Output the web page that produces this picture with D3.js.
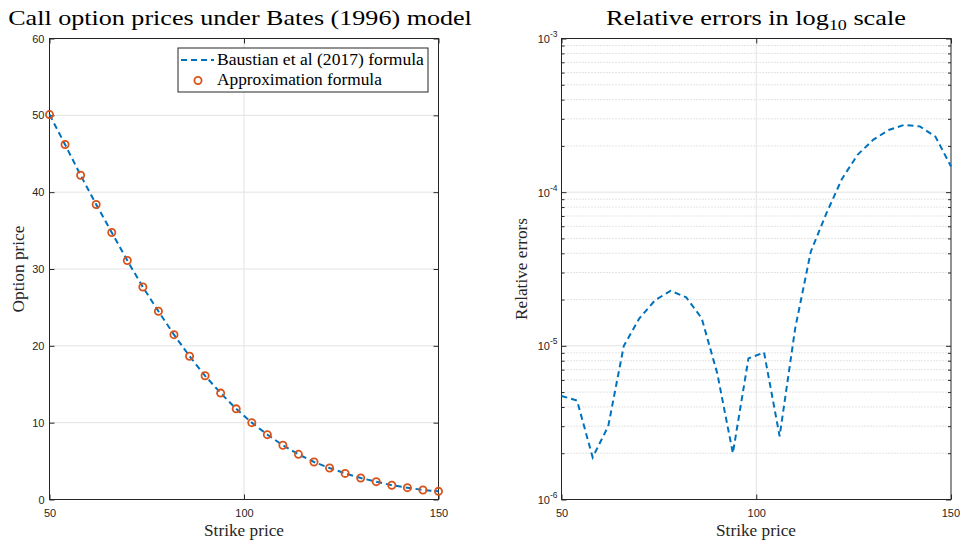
<!DOCTYPE html>
<html>
<head>
<meta charset="utf-8">
<script src="https://cdn.jsdelivr.net/npm/d3@7/dist/d3.min.js"></script>
<style>
  body { margin: 0; background: #fff; }
  svg { display: block; }
</style>
</head>
<body>
<svg id="chart" width="960" height="541"></svg>
<script>
// Strike grid and prices (Bates 1996 model)
const strikes = [50, 54, 58, 62, 66, 70, 74, 78, 82, 86, 90, 94, 98,
                 102, 106, 110, 114, 118, 122, 126, 130, 134, 138, 142, 146, 150];
const baustianPrices = [50.1, 46.2, 42.2, 38.4, 34.75, 31.1, 27.65, 24.5, 21.45, 18.65, 16.1, 13.85, 11.8,
                        10.0, 8.44, 7.06, 5.88, 4.88, 4.1, 3.4, 2.8, 2.32, 1.86, 1.54, 1.24, 1.06];
const approxPrices   = [50.1, 46.2, 42.2, 38.4, 34.75, 31.1, 27.65, 24.5, 21.45, 18.65, 16.1, 13.85, 11.8,
                        10.0, 8.44, 7.06, 5.88, 4.88, 4.1, 3.4, 2.8, 2.32, 1.86, 1.54, 1.24, 1.06];
// Relative errors of the approximation
const relErrors = [4.72e-6, 4.40e-6, 1.88e-6, 3.0e-6, 1.0e-5, 1.51e-5, 1.98e-5, 2.28e-5, 2.07e-5, 1.51e-5,
                   6.6e-6, 2.0e-6, 8.28e-6, 9.06e-6, 2.58e-6, 1.3e-5, 4.1e-5, 7.27e-5, 1.22e-4, 1.75e-4,
                   2.19e-4, 2.54e-4, 2.74e-4, 2.68e-4, 2.30e-4, 1.47e-4];

const strikeTicks = [50, 100, 150];
const priceTicks = [0, 10, 20, 30, 40, 50, 60];
const errorExponents = [-6, -5, -4, -3];

const BLUE = "#0072BD", ORANGE = "#D95319", AXIS = "#262626";
const SERIF = "'Liberation Serif', 'Times New Roman', serif";
const SANS = "'Liberation Sans', Arial, Helvetica, sans-serif";
const TICK_FS = 11;

const svg = d3.select("#chart");

// Stretch a text horizontally (along its own baseline) to a given width,
// keeping its anchor point fixed. The serif face used here is narrower
// than the TeX roman the labels are set in.
function stretchTo(sel, width, base) {
  const w = sel.node().getBBox().width;
  const s = width / w;
  sel.attr("transform", (base || "") + ` scale(${s},1)`);
}
function serifText(parent, x, y, size, anchor, str, width, fill) {
  const t = parent.append("text").attr("x", 0).attr("y", 0)
    .attr("text-anchor", anchor).attr("font-family", SERIF).attr("font-size", size)
    .attr("fill", fill || "#000").text(str);
  stretchTo(t, width, `translate(${x},${y})`);
  return t;
}

function axesFrame(g, x, y, w, h) {
  g.append("rect").attr("x", x).attr("y", y).attr("width", w).attr("height", h)
    .attr("fill", "none").attr("stroke", AXIS).attr("stroke-width", 1);
}
function styleAxis(a) {
  a.attr("font-size", TICK_FS).attr("font-family", SANS);
  a.select(".domain").remove();
  a.selectAll("line").attr("stroke", AXIS);
  a.selectAll("text").attr("fill", AXIS);
}

// ---------- Left panel: option prices ----------
const L = { left: 49.5, right: 438.5, top: 38.5, bottom: 499.5 };
const xL = d3.scaleLinear().domain([50, 150]).range([L.left, L.right]);
const yL = d3.scaleLinear().domain([0, 60]).range([L.bottom, L.top]);
const gL = svg.append("g");

// grid
gL.append("g").selectAll("line").data(priceTicks.filter(v => v > 0 && v < 60)).join("line")
  .attr("x1", L.left).attr("x2", L.right).attr("y1", d => yL(d)).attr("y2", d => yL(d))
  .attr("stroke", "#e3e3e3").attr("stroke-width", 1);
gL.append("g").selectAll("line").data(strikeTicks.filter(v => v > 50 && v < 150)).join("line")
  .attr("y1", L.top).attr("y2", L.bottom).attr("x1", d => xL(d)).attr("x2", d => xL(d))
  .attr("stroke", "#e3e3e3").attr("stroke-width", 1);

// axes with inward ticks
const bottomL = gL.append("g").attr("transform", `translate(0,${L.bottom})`)
  .call(d3.axisBottom(xL).tickValues(strikeTicks).tickSize(-5).tickPadding(10).tickSizeOuter(0));
const leftL = gL.append("g").attr("transform", `translate(${L.left},0)`)
  .call(d3.axisLeft(yL).tickValues(priceTicks).tickSize(-5).tickPadding(5).tickSizeOuter(0));
const topL = gL.append("g").attr("transform", `translate(0,${L.top})`)
  .call(d3.axisTop(xL).tickValues(strikeTicks).tickSize(-5).tickFormat("").tickSizeOuter(0));
const rightL = gL.append("g").attr("transform", `translate(${L.right},0)`)
  .call(d3.axisRight(yL).tickValues(priceTicks).tickSize(-5).tickFormat("").tickSizeOuter(0));
[bottomL, leftL, topL, rightL].forEach(styleAxis);
axesFrame(gL, L.left, L.top, L.right - L.left, L.bottom - L.top);

// dashed reference curve
const lineL = d3.line().x((d, i) => xL(strikes[i])).y(d => yL(d));
gL.append("path").datum(baustianPrices).attr("d", lineL)
  .attr("fill", "none").attr("stroke", BLUE).attr("stroke-width", 2)
  .attr("stroke-dasharray", "6 4");
// approximation markers
gL.append("g").selectAll("circle").data(approxPrices).join("circle")
  .attr("cx", (d, i) => xL(strikes[i])).attr("cy", d => yL(d)).attr("r", 3.6)
  .attr("fill", "none").attr("stroke", ORANGE).attr("stroke-width", 1.8);

// legend
const leg = gL.append("g");
leg.append("rect").attr("x", 178).attr("y", 48).attr("width", 250).attr("height", 44)
  .attr("fill", "#fff").attr("stroke", AXIS).attr("stroke-width", 1);
leg.append("line").attr("x1", 181).attr("x2", 214).attr("y1", 60).attr("y2", 60)
  .attr("stroke", BLUE).attr("stroke-width", 2).attr("stroke-dasharray", "6 4");
serifText(leg, 217, 64.5, 16, "start", "Baustian et al (2017) formula", 207);
leg.append("circle").attr("cx", 198).attr("cy", 80.5).attr("r", 3.6)
  .attr("fill", "none").attr("stroke", ORANGE).attr("stroke-width", 1.8);
serifText(leg, 217, 84.5, 16, "start", "Approximation formula", 165);

// titles and labels
serifText(svg, 240, 25, 22, "middle", "Call option prices under Bates (1996) model", 464);
serifText(svg, 244, 536, 16, "middle", "Strike price", 80, "#262626");
const yLab = svg.append("text").attr("text-anchor", "middle").attr("font-family", SERIF)
  .attr("font-size", 16).attr("fill", "#262626").text("Option price");
stretchTo(yLab, 87, "translate(24,269) rotate(-90)");

// ---------- Right panel: relative errors (log scale) ----------
const R = { left: 561.5, right: 951, top: 38.5, bottom: 499.5 };
const xR = d3.scaleLinear().domain([50, 150]).range([R.left, R.right]);
const yR = d3.scaleLog().domain([1e-6, 1e-3]).range([R.bottom, R.top]);
const gR = svg.append("g");

const majorVals = errorExponents.map(e => Math.pow(10, e));
const minorVals = [];
errorExponents.slice(0, -1).forEach(e => {
  for (let m = 2; m <= 9; m++) minorVals.push(m * Math.pow(10, e));
});

// minor dotted grid
gR.append("g").selectAll("line").data(minorVals).join("line")
  .attr("x1", R.left).attr("x2", R.right).attr("y1", d => yR(d)).attr("y2", d => yR(d))
  .attr("stroke", "#c8c8c8").attr("stroke-width", 1).attr("stroke-dasharray", "1 2");
// major grid
gR.append("g").selectAll("line").data(majorVals.slice(1, -1)).join("line")
  .attr("x1", R.left).attr("x2", R.right).attr("y1", d => yR(d)).attr("y2", d => yR(d))
  .attr("stroke", "#e3e3e3").attr("stroke-width", 1);
gR.append("g").selectAll("line").data(strikeTicks.filter(v => v > 50 && v < 150)).join("line")
  .attr("y1", R.top).attr("y2", R.bottom).attr("x1", d => xR(d)).attr("x2", d => xR(d))
  .attr("stroke", "#e3e3e3").attr("stroke-width", 1);

const bottomR = gR.append("g").attr("transform", `translate(0,${R.bottom})`)
  .call(d3.axisBottom(xR).tickValues(strikeTicks).tickSize(-5).tickPadding(10).tickSizeOuter(0));
const topR = gR.append("g").attr("transform", `translate(0,${R.top})`)
  .call(d3.axisTop(xR).tickValues(strikeTicks).tickSize(-5).tickFormat("").tickSizeOuter(0));
const leftRmaj = gR.append("g").attr("transform", `translate(${R.left},0)`)
  .call(d3.axisLeft(yR).tickValues(majorVals).tickSize(-5).tickFormat("").tickSizeOuter(0));
const leftRmin = gR.append("g").attr("transform", `translate(${R.left},0)`)
  .call(d3.axisLeft(yR).tickValues(minorVals).tickSize(-3).tickFormat("").tickSizeOuter(0));
const rightRmaj = gR.append("g").attr("transform", `translate(${R.right},0)`)
  .call(d3.axisRight(yR).tickValues(majorVals).tickSize(-5).tickFormat("").tickSizeOuter(0));
const rightRmin = gR.append("g").attr("transform", `translate(${R.right},0)`)
  .call(d3.axisRight(yR).tickValues(minorVals).tickSize(-3).tickFormat("").tickSizeOuter(0));
[bottomR, topR, leftRmaj, leftRmin, rightRmaj, rightRmin].forEach(styleAxis);
// keep the last strike label inside the page edge
bottomR.selectAll(".tick").filter(d => d === 150).select("text")
  .attr("text-anchor", "end").attr("x", 8.5);

// power-of-ten tick labels
const expLabels = gR.append("g").attr("font-family", SANS).attr("fill", AXIS);
errorExponents.forEach(e => {
  const t = expLabels.append("text").attr("x", R.left - 4).attr("y", yR(Math.pow(10, e)) + 4.5)
    .attr("text-anchor", "end").attr("font-size", TICK_FS);
  t.append("tspan").text("10");
  t.append("tspan").attr("dy", -6).attr("font-size", 8.5).text("-" + Math.abs(e));
});
axesFrame(gR, R.left, R.top, R.right - R.left, R.bottom - R.top);

const lineR = d3.line().x((d, i) => xR(strikes[i])).y(d => yR(d));
gR.append("path").datum(relErrors).attr("d", lineR)
  .attr("fill", "none").attr("stroke", BLUE).attr("stroke-width", 2)
  .attr("stroke-dasharray", "6 4");

// right titles
const t2 = svg.append("text").attr("x", 0).attr("y", 0).attr("text-anchor", "middle")
  .attr("font-family", SERIF).attr("font-size", 22).attr("fill", "#000");
t2.append("tspan").text("Relative errors in log");
t2.append("tspan").attr("dy", 5).attr("font-size", 15).text("10");
t2.append("tspan").attr("dy", -5).text(" scale");
stretchTo(t2, 300, "translate(756,25)");
serifText(svg, 756, 536, 16, "middle", "Strike price", 80, "#262626");
const yLab2 = svg.append("text").attr("text-anchor", "middle").attr("font-family", SERIF)
  .attr("font-size", 16).attr("fill", "#262626").text("Relative errors");
stretchTo(yLab2, 102, "translate(527,269) rotate(-90)");
</script>
</body>
</html>
